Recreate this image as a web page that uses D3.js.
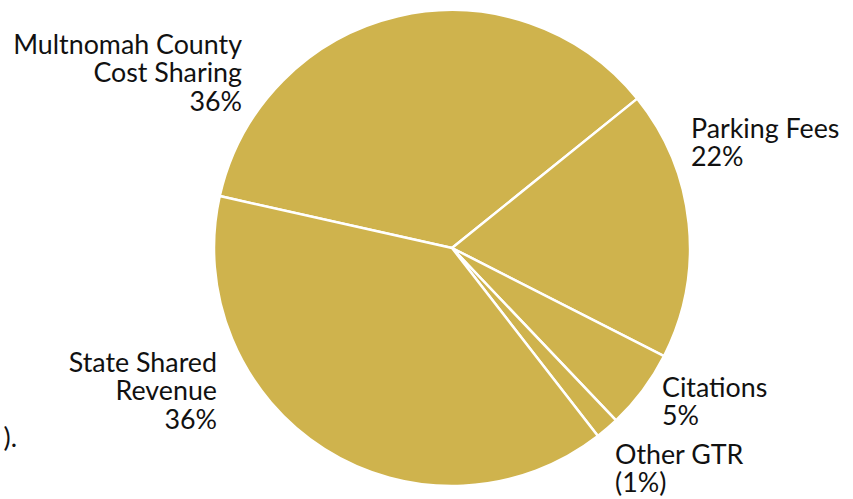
<!DOCTYPE html>
<html>
<head>
<meta charset="utf-8">
<script src="https://cdn.jsdelivr.net/npm/d3@7"></script>
<style>
  html, body { margin: 0; padding: 0; background: #fff; }
  svg { display: block; }
  text { font-family: "Lato", "Open Sans", sans-serif; fill: #111; }
</style>
</head>
<body>
<svg id="chart" width="853" height="499"></svg>
<script>
// Data (clockwise from the upper-left boundary)
const categories = ["Multnomah County Cost Sharing", "Parking Fees", "Citations", "Other GTR", "State Shared Revenue"];
const values = [35.7, 18.3, 5.4, 1.6, 39.0];
const labelLines = [
  ["Multnomah County", "Cost Sharing", "36%"],
  ["Parking Fees", "22%"],
  ["Citations", "5%"],
  ["Other GTR", "(1%)"],
  ["State Shared", "Revenue", "36%"]
];

const width = 853, height = 499;
const cx = 452, cy = 248, radius = 238;
const color = "#CFB34D";

const svg = d3.select("#chart");
const g = svg.append("g").attr("transform", `translate(${cx},${cy})`);

const pie = d3.pie().sort(null).value(d => d)
  .startAngle(-77.4 * Math.PI / 180)
  .endAngle((360 - 77.4) * Math.PI / 180);
const arc = d3.arc().innerRadius(0).outerRadius(radius);

g.selectAll("path").data(pie(values)).join("path")
  .attr("d", arc)
  .attr("fill", color)
  .attr("stroke", "#fff")
  .attr("stroke-width", 2.5)
  .attr("stroke-linejoin", "round");

// Label placements
const labelPos = [
  { x: 242, y: 54, anchor: "end" },
  { x: 691, y: 138, anchor: "start" },
  { x: 662, y: 397, anchor: "start" },
  { x: 615, y: 464, anchor: "start" },
  { x: 217, y: 372, anchor: "end" }
];
const fontSize = 26.8, lineH = 28.3;

labelLines.forEach((lines, i) => {
  const p = labelPos[i];
  const t = svg.append("text")
    .attr("x", p.x).attr("y", p.y)
    .attr("text-anchor", p.anchor)
    .style("font-size", fontSize + "px");
  lines.forEach((ln, j) => {
    t.append("tspan").attr("x", p.x).attr("y", p.y + j * lineH).text(ln);
  });
});

// clipped text fragment at left edge
svg.append("text").attr("x", 17).attr("y", 447).attr("text-anchor", "end")
  .style("font-size", fontSize + "px").text(").");
</script>
</body>
</html>
